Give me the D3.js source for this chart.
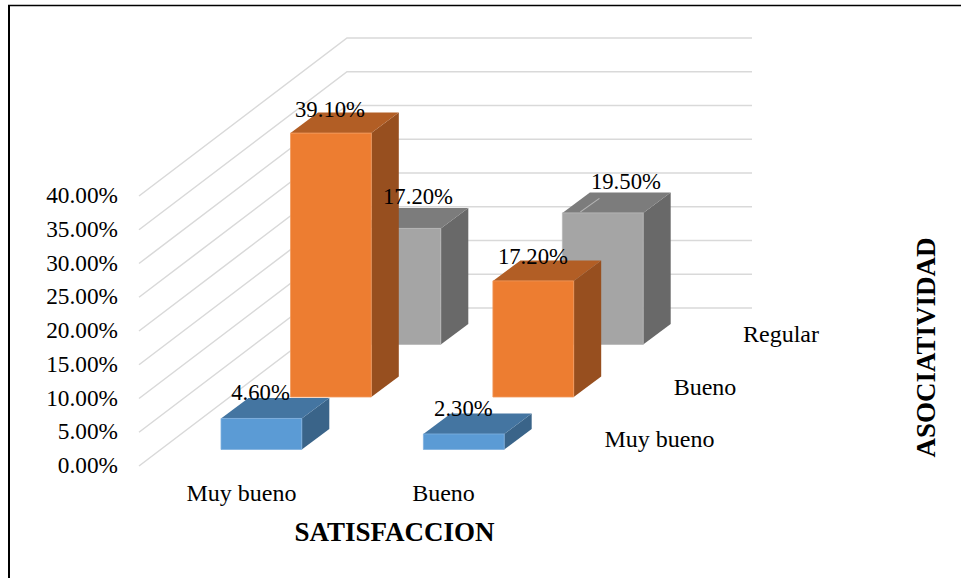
<!DOCTYPE html>
<html><head><meta charset="utf-8">
<script src="https://cdn.jsdelivr.net/npm/d3@7"></script>
<style>html,body{margin:0;padding:0;background:#fff}svg{display:block}text{font-family:"Liberation Serif",serif;fill:#000}</style>
</head><body><svg id="c" width="961" height="578"></svg>
<script>
const categories = ["Muy bueno", "Bueno"];
const seriesNames = ["Muy bueno", "Bueno", "Regular"];
const valuesMuyBueno = [4.6, 2.3];
const valuesBueno = [39.1, 17.2];
const valuesRegular = [17.2, 19.5];
const tickValues = [0, 5, 10, 15, 20, 25, 30, 35, 40];
const xTitle = "SATISFACCION";
const zTitle = "ASOCIATIVIDAD";

const seriesValues = [valuesMuyBueno, valuesBueno, valuesRegular];
const fronts = ["#5b9bd5", "#ed7d31", "#a5a5a5"];
const tops   = ["#4475a1", "#b25e25", "#7c7c7c"];
const sides  = ["#3a6489", "#974f1f", "#696969"];
const edges  = ["#7fb0de", "#f19a5e", "#b8b8b8"];
const fs = 23.3, catFs = 24, labelFs = 22.7, titleFs = 27;

const svg = d3.select("#c");
svg.append("line").attr("x1", 8).attr("x2", 961).attr("y1", 5.5).attr("y2", 5.5).attr("stroke", "#000").attr("stroke-width", 1.3);
svg.append("line").attr("x1", 9).attr("x2", 9).attr("y1", 5).attr("y2", 578).attr("stroke", "#000").attr("stroke-width", 2);

const y = d3.scaleLinear().domain([0, 40]).range([466, 196]);
const h = v => y(0) - y(v);
const x = d3.scaleOrdinal().domain(categories).range([221, 423.4]);
const depthX = d3.scaleLinear().domain([0, 2]).range([0, 139]);
const depthY = d3.scaleLinear().domain([0, 2]).range([0, -105]);
const barW = 80.8, floorY = 449.5, capX = 27.5, capY = -20.5;
const labelDx = [[39.5, 40], [39.5, 40], [58, 63.5]];
const labelDy = [-18, -16.5, -24];

const grid = svg.append("g").attr("fill", "none").attr("stroke", "#d9d9d9").attr("stroke-width", 1.5);
tickValues.forEach(t => {
  const p = d3.path();
  p.moveTo(139, y(t));
  p.lineTo(347, y(t) - 158);
  p.lineTo(752, y(t) - 158);
  grid.append("path").attr("d", p.toString());
});

svg.append("g").selectAll("text").data(tickValues).join("text")
  .attr("x", 118).attr("y", d => y(d) + 7).attr("text-anchor", "end")
  .attr("font-size", fs).text(d => d.toFixed(2) + "%");

for (let s = 2; s >= 0; s--) {
  categories.forEach((c, i) => {
    const v = seriesValues[s][i];
    const l = x(c) + depthX(s), r = l + barW, b = floorY + depthY(s), t = b - h(v);
    const g = svg.append("g").attr("stroke-linejoin", "round");
    g.append("polygon").attr("points", [[r, t], [r + capX, t + capY], [r + capX, b + capY], [r, b]].join(" ")).attr("fill", sides[s]);
    g.append("polygon").attr("points", [[l, t], [l + capX, t + capY], [r + capX, t + capY], [r, t]].join(" ")).attr("fill", tops[s]);
    if (s === 2) {
      g.append("line").attr("x1", l + 18).attr("y1", t - 1).attr("x2", l + 37).attr("y2", t + capY + 6)
        .attr("stroke", "#b5b5b5").attr("stroke-width", 1.2);
    }
    g.append("rect").attr("x", l).attr("y", t).attr("width", barW).attr("height", b - t)
      .attr("fill", fronts[s]).attr("stroke", edges[s]).attr("stroke-width", 0.8);
  });
}

seriesValues.forEach((vals, s) => {
  categories.forEach((c, i) => {
    const l = x(c) + depthX(s), b = floorY + depthY(s), t = b - h(vals[i]);
    svg.append("text").attr("x", l + labelDx[s][i]).attr("y", t + labelDy[s])
      .attr("font-size", labelFs).attr("text-anchor", "middle").text(vals[i].toFixed(2) + "%");
  });
});

svg.append("g").selectAll("text").data(categories).join("text")
  .attr("x", (d, i) => [241.5, 443.5][i]).attr("y", 501).attr("text-anchor", "middle")
  .attr("font-size", catFs).text(d => d);

const sPos = [[659.5, 447], [705, 395], [781, 342]];
svg.append("g").selectAll("text").data(seriesNames).join("text")
  .attr("x", (d, i) => sPos[i][0]).attr("y", (d, i) => sPos[i][1]).attr("text-anchor", "middle")
  .attr("font-size", catFs).text(d => d);

svg.append("text").attr("x", 394.5).attr("y", 541).attr("text-anchor", "middle")
  .attr("font-size", titleFs).attr("font-weight", "bold").text(xTitle);
svg.append("text").attr("transform", "translate(935,347.5) rotate(-90)").attr("text-anchor", "middle")
  .attr("font-size", titleFs).attr("font-weight", "bold").text(zTitle);
</script></body></html>
